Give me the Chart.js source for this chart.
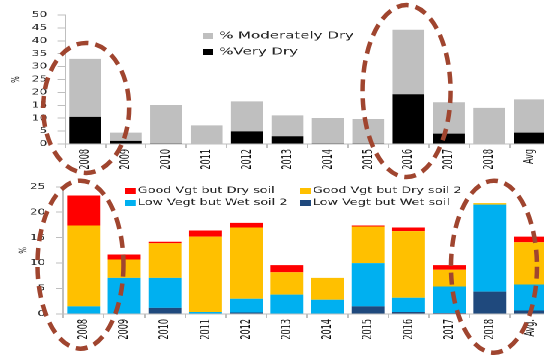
<!DOCTYPE html>
<html>
<head>
<meta charset="utf-8">
<script src="https://cdn.jsdelivr.net/npm/chart.js@4.4.1/dist/chart.umd.min.js"></script>
<style>
  html, body { margin: 0; padding: 0; background: #fff; width: 544px; height: 355px; overflow: hidden; }
  #stretch { position: absolute; left: 0; top: 0; width: 370px; height: 355px; transform: scaleX(1.5); transform-origin: 0 0; }
  #dryChart { position: absolute; left: 0; top: 0; }
  #vegChart { position: absolute; left: 0; top: 175px; }
  #rings { position: absolute; left: 0; top: 0; pointer-events: none; z-index: 5; }
</style>
</head>
<body>
<div id="stretch">
  <canvas id="dryChart" width="370" height="175"></canvas>
  <canvas id="vegChart" width="370" height="180"></canvas>
</div>
<canvas id="rings" width="544" height="355"></canvas>
<script>
// Horizontal stretch applied to both chart panels
const X_STRETCH = 1.5;

// Categories
const years = ['2008', '2009', '2010', '2011', '2012', '2013', '2014', '2015', '2016', '2017', '2018'];
const dryLabels = [...years, 'Avg'];
const vegLabels = [...years, 'Avg.'];

// Upper panel: share of area (%) by dryness class
const veryDry       = [10.5, 1.2, 0.3, 0.0, 4.9, 3.0, 0.3, 0.3, 19.3, 4.0, 0.0, 4.4];
const moderatelyDry = [22.5, 3.2, 14.8, 7.2, 11.6, 8.1, 9.8, 9.4, 25.0, 12.2, 14.0, 12.9];

// Lower panel: vegetation / soil moisture mismatch classes (%)
const lowVegWetSoil   = [0.0, 0.0, 1.2, 0.0, 0.3, 0.0, 0.0, 1.5, 0.4, 0.2, 4.4, 0.7];
const lowVegWetSoil2  = [1.5, 7.1, 5.9, 0.4, 2.7, 3.8, 2.8, 8.5, 2.8, 5.2, 17.1, 5.1];
const goodVegDrySoil2 = [15.9, 3.6, 6.8, 14.8, 14.0, 4.4, 4.3, 7.2, 13.1, 3.3, 0.3, 8.3];
const goodVegDrySoil  = [5.9, 1.0, 0.3, 1.2, 0.9, 1.4, 0.0, 0.2, 0.7, 0.9, 0.0, 1.1];

// Value axis ranges
const dryAxis = { max: 50, step: 5 };
const vegAxis = { max: 25, step: 5 };

// Years picked out with dashed rings: [category index, ring centre value, half width, half height, x nudge]
const dryRings = [[0, 14, 43, 65, 1], [8, 20.5, 44, 86, -2]];
const vegRings = [[0, 9.7, 43, 84, -3], [10, 9.3, 43, 86, 4]];

const AXIS_GREY = '#BFBFBF';
const TEXT = '#262626';

// Legend laid out on a fixed grid inside the plot area
const gridLegend = {
  id: 'gridLegend',
  afterDraw(chart, args, o) {
    const ctx = chart.ctx;
    ctx.save();
    ctx.font = o.font;
    ctx.textBaseline = 'middle';
    ctx.textAlign = 'left';
    o.order.forEach((dsIndex, i) => {
      const ds = chart.data.datasets[dsIndex];
      const col = i % o.cols;
      const row = Math.floor(i / o.cols);
      const x = o.x[col];
      const y = o.y + row * o.rowGap;
      ctx.fillStyle = ds.backgroundColor;
      ctx.fillRect(x, y - o.boxH / 2, o.boxW, o.boxH);
      ctx.fillStyle = TEXT;
      ctx.fillText(ds.label, x + o.textGap, y);
    });
    ctx.restore();
  }
};

function baseOptions(cfg) {
  return {
    responsive: false,
    animation: false,
    devicePixelRatio: 2,
    layout: { padding: { left: 0, right: cfg.padRight, top: cfg.padTop, bottom: 0 } },
    plugins: {
      legend: { display: false },
      tooltip: { enabled: false },
      gridLegend: cfg.legend
    },
    scales: {
      x: {
        stacked: true,
        afterFit: s => { s.height = cfg.xAxisH; },
        border: { color: AXIS_GREY, width: 1 },
        grid: { drawOnChartArea: false, drawTicks: true, tickLength: 4, color: AXIS_GREY },
        ticks: {
          autoSkip: false, minRotation: 90, maxRotation: 90, padding: 1,
          color: '#111',
          font: { family: "'Liberation Sans Narrow', 'DejaVu Sans Condensed', 'Liberation Sans', sans-serif", size: 9 }
        }
      },
      y: {
        stacked: true,
        min: 0, max: cfg.axis.max,
        afterFit: s => { s.width = cfg.yAxisW; },
        border: { color: AXIS_GREY, width: 1 },
        grid: { drawOnChartArea: false, drawTicks: true, tickLength: 5, color: AXIS_GREY },
        ticks: {
          stepSize: cfg.axis.step, padding: 7, color: TEXT,
          font: { family: "'DejaVu Sans', sans-serif", size: 8 }
        },
        title: {
          display: true, text: '%', color: TEXT,
          padding: { top: cfg.titlePad, bottom: 0 },
          font: { family: "'DejaVu Sans', sans-serif", size: 7 }
        }
      }
    }
  };
}

const dryChart = new Chart(document.getElementById('dryChart'), {
  type: 'bar',
  data: {
    labels: dryLabels,
    datasets: [
      { label: '%Very Dry', data: veryDry, backgroundColor: '#000000', barPercentage: 0.79, categoryPercentage: 1 },
      { label: '% Moderately Dry', data: moderatelyDry, backgroundColor: '#BFBFBF', barPercentage: 0.79, categoryPercentage: 1 }
    ]
  },
  options: baseOptions({
    axis: dryAxis, padRight: 3.3, padTop: 15, xAxisH: 31, yAxisW: 43.3, titlePad: 6.5,
    legend: { order: [1, 0], cols: 1, x: [135.3], y: 36, rowGap: 16, boxW: 6.7, boxH: 6, textGap: 10.7,
              font: "10px 'DejaVu Sans', sans-serif" }
  }),
  plugins: [gridLegend]
});

const vegChart = new Chart(document.getElementById('vegChart'), {
  type: 'bar',
  data: {
    labels: vegLabels,
    datasets: [
      { label: 'Low Vegt but Wet soil', data: lowVegWetSoil, backgroundColor: '#1F497D', barPercentage: 0.81, categoryPercentage: 1 },
      { label: 'Low Vegt but Wet soil 2', data: lowVegWetSoil2, backgroundColor: '#00B0F0', barPercentage: 0.81, categoryPercentage: 1 },
      { label: 'Good Vgt but Dry soil 2', data: goodVegDrySoil2, backgroundColor: '#FFC000', barPercentage: 0.81, categoryPercentage: 1 },
      { label: 'Good Vgt but Dry soil', data: goodVegDrySoil, backgroundColor: '#FF0000', barPercentage: 0.81, categoryPercentage: 1 }
    ]
  },
  options: baseOptions({
    axis: vegAxis, padRight: 2.7, padTop: 11, xAxisH: 41, yAxisW: 42.1, titlePad: 11.5,
    legend: { order: [3, 2, 1, 0], cols: 2, x: [83.3, 200], y: 16, rowGap: 12, boxW: 7.1, boxH: 6, textGap: 8.5,
              font: "8.5px 'DejaVu Sans', sans-serif" }
  }),
  plugins: [gridLegend]
});

// Dashed highlight rings, centred on the bars of the chosen years
function drawRings() {
  const c = document.getElementById('rings').getContext('2d');
  c.clearRect(0, 0, 544, 355);
  c.strokeStyle = '#A0452F';
  c.lineWidth = 4.5;
  c.setLineDash([12, 7]);
  const draw = (chart, list, top) => {
    const bars = chart.getDatasetMeta(0).data;
    const yScale = chart.scales.y;
    list.forEach(([idx, val, rx, ry, dx]) => {
      const cx = bars[idx].x * X_STRETCH + dx;
      const cy = top + yScale.getPixelForValue(val);
      c.beginPath();
      c.ellipse(cx, cy, rx, ry, 0, 0, Math.PI * 2);
      c.stroke();
    });
  };
  draw(dryChart, dryRings, 0);
  draw(vegChart, vegRings, 175);
}
drawRings();
</script>
</body>
</html>
